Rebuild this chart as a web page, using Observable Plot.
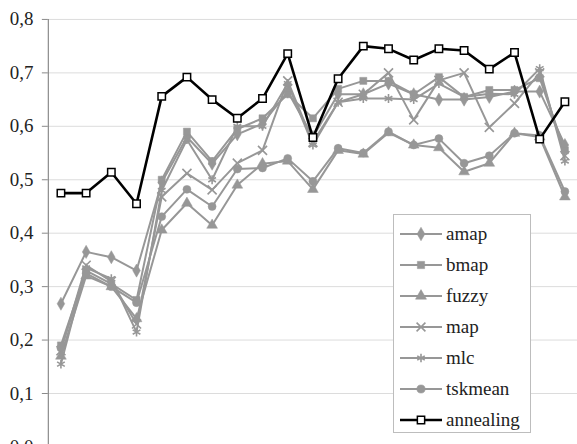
<!DOCTYPE html>
<html>
<head>
<meta charset="utf-8">
<script src="https://cdn.jsdelivr.net/npm/d3@7"></script>
<script src="https://cdn.jsdelivr.net/npm/@observablehq/plot@0.6"></script>
<style>
  html, body { margin: 0; padding: 0; overflow: hidden; background: #fff; }
  #wrap { position: relative; width: 577px; height: 444px; overflow: hidden; }
  #legend { position: absolute; left: 393px; top: 214px; width: 136px; height: 217px;
    background: #fff; border: 1px solid #bdbdbd; font-family: "Liberation Serif", "Times New Roman", "DejaVu Serif", serif;
    font-size: 19px; color: #222; }
  .row { position: absolute; left: 0; height: 30px; display: flex; align-items: center; }
  .row svg { display: block; margin-left: 6px; margin-right: 4px; }
  #chart svg text { font-family: "Liberation Serif", "Times New Roman", "DejaVu Serif", serif; }
</style>
</head>
<body>
<div id="wrap"><div id="chart"></div><div id="legend"></div></div>
<script>
const categories = [1,2,3,4,5,6,7,8,9,10,11,12,13,14,15,16,17,18,19,20,21];
const yTicks = [0, 0.1, 0.2, 0.3, 0.4, 0.5, 0.6, 0.7, 0.8];

const amap     = [0.268,0.365,0.355,0.330,0.495,0.580,0.530,0.585,0.605,0.665,0.580,0.660,0.660,0.680,0.660,0.650,0.650,0.655,0.665,0.665,0.565];
const bmap     = [0.190,0.330,0.305,0.275,0.500,0.590,0.535,0.595,0.615,0.660,0.615,0.670,0.685,0.685,0.660,0.692,0.655,0.668,0.668,0.690,0.555];
const fuzzy    = [0.170,0.320,0.300,0.240,0.406,0.456,0.415,0.490,0.530,0.535,0.482,0.555,0.548,0.588,0.565,0.560,0.515,0.531,0.587,0.580,0.468];
const map      = [0.180,0.340,0.310,0.230,0.468,0.512,0.481,0.531,0.555,0.685,0.570,0.645,0.660,0.700,0.612,0.686,0.700,0.598,0.643,0.700,0.545];
const mlc      = [0.155,0.335,0.315,0.215,0.480,0.575,0.500,0.600,0.600,0.680,0.565,0.645,0.652,0.652,0.650,0.680,0.655,0.661,0.660,0.708,0.535];
const tskmean  = [0.185,0.325,0.300,0.270,0.431,0.482,0.450,0.520,0.522,0.540,0.497,0.559,0.550,0.590,0.565,0.577,0.531,0.545,0.587,0.583,0.478];
const annealing= [0.475,0.475,0.514,0.455,0.656,0.692,0.650,0.615,0.652,0.736,0.579,0.689,0.750,0.745,0.724,0.745,0.742,0.707,0.738,0.576,0.646];

const seriesNames = ["amap","bmap","fuzzy","map","mlc","tskmean","annealing"];
const seriesValues = [amap,bmap,fuzzy,map,mlc,tskmean,annealing];
const symbols = {amap:"diamond", bmap:"square", fuzzy:"triangle", map:"times", mlc:"asterisk", tskmean:"circle", annealing:"square"};
const gray = "#979797";
const serif = "'Liberation Serif', 'Times New Roman', 'DejaVu Serif', serif";

const rows = seriesNames.flatMap((s, k) => seriesValues[k].map((v, i) => ({series: s, x: categories[i], y: v})));
const grayRows = rows.filter(d => d.series !== "annealing");
const annRows = rows.filter(d => d.series === "annealing");

const fmt = d => d.toFixed(1).replace(".", ",");

const marks = [
  Plot.gridY(yTicks, {stroke: "#dcdcdc", strokeOpacity: 1}),
  Plot.ruleX([0.5], {y1: 0, y2: 0.8, stroke: "#8a8a8a", strokeWidth: 1.2}),
  Plot.axisY(yTicks, {tickSize: 6, tickPadding: 9, stroke: "#8a8a8a", fill: "#222", fontSize: 19, tickFormat: fmt, label: null})
];
for (const s of seriesNames.slice(0, 6)) {
  const data = grayRows.filter(d => d.series === s);
  marks.push(Plot.line(data, {x: "x", y: "y", stroke: gray, strokeWidth: 2}));
}
for (const s of seriesNames.slice(0, 6)) {
  const data = grayRows.filter(d => d.series === s);
  const sym = symbols[s];
  const stroked = sym === "times" || sym === "asterisk";
  marks.push(Plot.dot(data, {x: "x", y: "y", symbol: () => sym, r: stroked ? 4.2 : 4,
    fill: stroked ? "none" : gray, stroke: gray, strokeWidth: stroked ? 1.6 : 0.5}));
}
marks.push(Plot.line(annRows, {x: "x", y: "y", stroke: "#000", strokeWidth: 2.6}));
marks.push(Plot.dot(annRows, {x: "x", y: "y", symbol: "square", r: 4.2, fill: "#fff", stroke: "#000", strokeWidth: 1.5}));

const chart = Plot.plot({
  width: 579, height: 460,
  marginLeft: 48, marginRight: 0, marginTop: 19, marginBottom: 12,
  style: {fontFamily: serif, background: "transparent", overflow: "visible"},
  x: {domain: [0.5, 21.5], axis: null},
  y: {domain: [0, 0.8], axis: null, label: null},
  symbol: {type: "identity"},
  marks
});
document.getElementById("chart").appendChild(chart);

// legend
const legend = d3.select("#legend");
seriesNames.forEach((s, k) => {
  const row = legend.append("div").attr("class", "row").style("top", (4 + k * 31) + "px");
  const sv = row.append("svg").attr("width", 42).attr("height", 16);
  const isAnn = s === "annealing";
  const col = isAnn ? "#000" : gray;
  sv.append("line").attr("x1", 0).attr("x2", 42).attr("y1", 8).attr("y2", 8)
    .attr("stroke", col).attr("stroke-width", isAnn ? 2.6 : 2);
  const symMap = {diamond: d3.symbolDiamond, square: d3.symbolSquare, triangle: d3.symbolTriangle,
    times: d3.symbolTimes, asterisk: d3.symbolAsterisk, circle: d3.symbolCircle};
  const sym = symbols[s];
  const stroked = sym === "times" || sym === "asterisk";
  sv.append("path").attr("transform", "translate(21,8)")
    .attr("d", d3.symbol(symMap[sym], Math.PI * 4.1 * 4.1)())
    .attr("fill", isAnn ? "#fff" : (stroked ? "none" : gray))
    .attr("stroke", col).attr("stroke-width", isAnn ? 1.5 : (stroked ? 1.6 : 0.5));
  row.append("span").text(s);
});
</script>
</body>
</html>
